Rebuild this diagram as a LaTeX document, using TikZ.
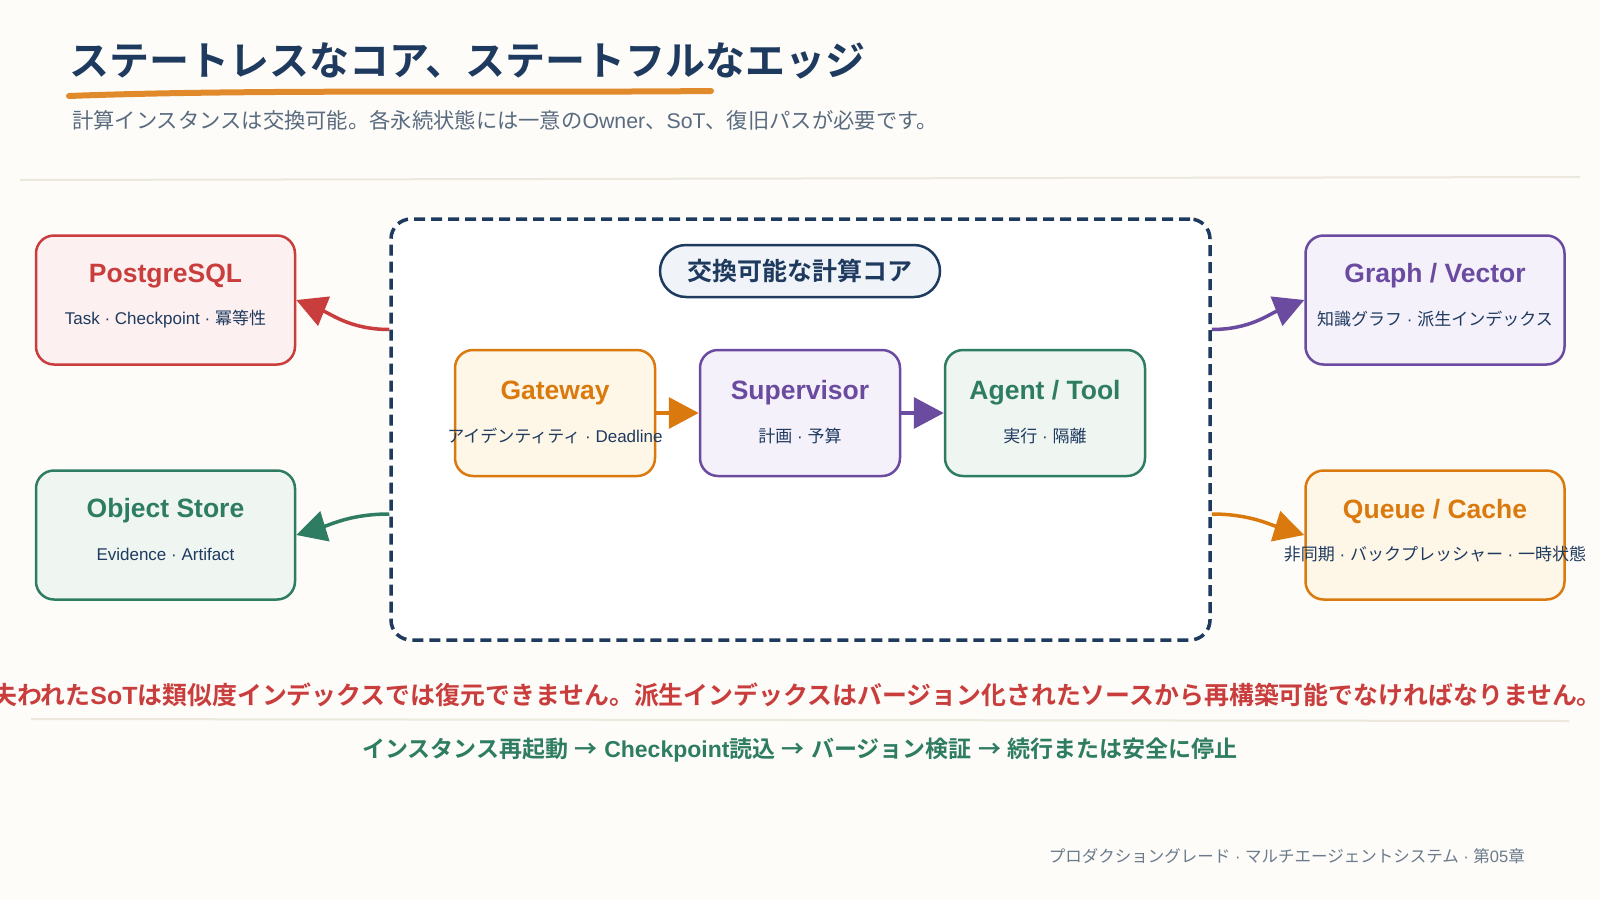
\documentclass[tikz,border=0pt]{standalone}
\usepackage{fontspec}
\setmainfont{Noto Sans CJK JP}[BoldFont={Noto Sans CJK JP Bold}]
\newfontfamily\latinfont{Liberation Sans}
\newcommand\lat[1]{{\latinfont #1}}
\usepackage{tikz}
\usetikzlibrary{arrows.meta}
\definecolor{paper}{HTML}{FDFCF8}
\definecolor{navy}{HTML}{1E3A5F}
\definecolor{slate}{HTML}{5A6B80}
\definecolor{rule}{HTML}{ECE8DE}
\definecolor{brush}{HTML}{E08A2B}
\definecolor{pgred}{HTML}{C93D3D}
\definecolor{pgfill}{HTML}{FDF0F0}
\definecolor{amber}{HTML}{DA7A0E}
\definecolor{amberfill}{HTML}{FEF6E7}
\definecolor{violet}{HTML}{6B4BA0}
\definecolor{violetfill}{HTML}{F4F1FA}
\definecolor{teal}{HTML}{2E7D62}
\definecolor{tealfill}{HTML}{EFF6F2}
\definecolor{pillfill}{HTML}{F0F4F8}
\definecolor{footgrey}{HTML}{6B7A8C}

\begin{document}
\begin{tikzpicture}[x=1pt,y=1pt,
    store/.style={draw, rounded corners=18pt, line width=2.5pt, minimum width=259pt, minimum height=129pt},
    unit/.style={draw, rounded corners=18pt, line width=2.5pt, minimum width=200pt, minimum height=126pt},
    head/.style={inner sep=0pt, font=\fontsize{26.5}{30}\selectfont\bfseries\latinfont},
    note/.style={inner sep=0pt, text=navy, font=\fontsize{17}{20}\selectfont},
    flow/.style={line width=3.5pt, -{Triangle[length=30pt,width=31pt]}}]
  \useasboundingbox (0,0) rectangle (1600,-900);
  \fill[paper] (0,0) rectangle (1600,-900);

  % heading
  \node[anchor=west, inner sep=0pt, text=navy, font=\fontsize{40}{46}\selectfont\bfseries] (title) at (69,-61) {ステートレスなコア、ステートフルなエッジ};
  \draw[brush, line width=6pt, line cap=round] (69,-96) .. controls (250,-89) and (500,-93) .. (711,-91);
  \node[anchor=west, inner sep=0pt, text=slate, font=\fontsize{21.3}{25}\selectfont] (subtitle) at (72,-120) {計算インスタンスは交換可能。各永続状態には一意の\lat{Owner}、\lat{SoT}、復旧パスが必要です。};
  \draw[rule, line width=2pt] (20,-180) -- (1580,-177);

  % stateless core
  \node[draw=navy, fill=white, line width=3.5pt, dash pattern=on 11pt off 6pt, rounded corners=20pt,
        minimum width=819pt, minimum height=421pt] (core) at (800.5,-429.5) {};
  \node[draw=navy, fill=pillfill, line width=2.5pt, rounded corners=26pt, minimum width=280pt, minimum height=52pt,
        text=navy, font=\fontsize{25}{28}\selectfont\bfseries] (corelabel) at (800,-271) {交換可能な計算コア};

  \node[unit, draw=amber, fill=amberfill] (gw) at (555,-413) {};
  \node[head, text=amber] (gwhead) at ([yshift=20pt]gw.center) {Gateway};
  \node[note] (gwnote) at ([yshift=-23pt]gw.center) {アイデンティティ\lat{ · Deadline}};

  \node[unit, draw=violet, fill=violetfill] (sup) at (800,-413) {};
  \node[head, text=violet] (suphead) at ([yshift=20pt]sup.center) {Supervisor};
  \node[note] (supnote) at ([yshift=-23pt]sup.center) {計画\lat{ · }予算};

  \node[unit, draw=teal, fill=tealfill] (agent) at (1045,-413) {};
  \node[head, text=teal] (agenthead) at ([yshift=20pt]agent.center) {Agent / Tool};
  \node[note] (agentnote) at ([yshift=-23pt]agent.center) {実行\lat{ · }隔離};

  \draw[flow, amber] (gw.east) -- (sup.west);
  \draw[flow, violet] (sup.east) -- (agent.west);

  % stateful edge
  \node[store, draw=pgred, fill=pgfill] (pg) at (165.5,-300) {};
  \node[head, text=pgred] (pghead) at ([yshift=24pt]pg.center) {PostgreSQL};
  \node[note] (pgnote) at ([yshift=-19pt]pg.center) {\lat{Task · Checkpoint · }冪等性};

  \node[store, draw=teal, fill=tealfill] (objstore) at (165.5,-535) {};
  \node[head, text=teal] (objhead) at ([yshift=24pt]objstore.center) {Object Store};
  \node[note] (objnote) at ([yshift=-19pt]objstore.center) {\lat{Evidence · Artifact}};

  \node[store, draw=violet, fill=violetfill] (graph) at (1435,-300) {};
  \node[head, text=violet] (graphhead) at ([yshift=24pt]graph.center) {Graph / Vector};
  \node[note] (graphnote) at ([yshift=-19pt]graph.center) {知識グラフ\lat{ · }派生インデックス};

  \node[store, draw=amber, fill=amberfill] (queue) at (1435,-535) {};
  \node[head, text=amber] (queuehead) at ([yshift=24pt]queue.center) {Queue / Cache};
  \node[note] (queuenote) at ([yshift=-19pt]queue.center) {非同期\lat{ · }バックプレッシャー\lat{ · }一時状態};

  \draw[flow, pgred] ([yshift=100pt]core.west) to[out=180,in=-22] (pg.east);
  \draw[flow, teal] ([yshift=-84.5pt]core.west) to[out=180,in=17] (objstore.east);
  \draw[flow, violet] ([yshift=100pt]core.east) to[out=0,in=202] (graph.west);
  \draw[flow, amber] ([yshift=-84.5pt]core.east) to[out=0,in=163] (queue.west);

  % notes below
  \node[inner sep=0pt, text=pgred, font=\fontsize{24.9}{28}\selectfont\bfseries] (warning) at (797,-695)
    {失われた\lat{SoT}は類似度インデックスでは復元できません。派生インデックスはバージョン化されたソースから再構築可能でなければなりません。};
  \draw[rule, line width=2pt] (31,-719) -- (1569,-721);
  \node[inner sep=0pt, text=teal, font=\fontsize{23}{26}\selectfont\bfseries] (recovery) at (800,-750)
    {インスタンス再起動\lat{ }→\lat{ Checkpoint}読込\lat{ }→\lat{ }バージョン検証\lat{ }→\lat{ }続行または安全に停止};
  \node[anchor=east, inner sep=0pt, text=footgrey, font=\fontsize{16.5}{20}\selectfont] (footer) at (1525,-856)
    {プロダクショングレード\lat{ · }マルチエージェントシステム\lat{ · }第\lat{05}章};
\end{tikzpicture}
\end{document}
